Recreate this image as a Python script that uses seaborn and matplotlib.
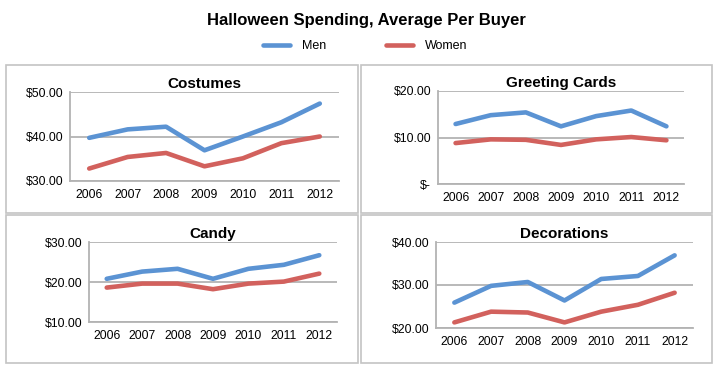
"""Halloween spending per buyer, small multiples by category."""

import matplotlib
matplotlib.use("Agg")
import matplotlib.pyplot as plt
import pandas as pd
import seaborn as sns
from matplotlib.lines import Line2D
from matplotlib.patches import Rectangle
from matplotlib.ticker import FixedLocator

years = ["2006", "2007", "2008", "2009", "2010", "2011", "2012"]

costumes_men = [39.7, 41.6, 42.2, 36.9, 40.0, 43.2, 47.4]
costumes_women = [32.8, 35.4, 36.3, 33.3, 35.1, 38.5, 40.0]

cards_men = [12.9, 14.8, 15.4, 12.4, 14.6, 15.8, 12.4]
cards_women = [8.8, 9.6, 9.5, 8.4, 9.6, 10.1, 9.4]

candy_men = [20.8, 22.6, 23.3, 20.8, 23.3, 24.3, 26.7]
candy_women = [18.6, 19.6, 19.6, 18.2, 19.6, 20.1, 22.1]

decor_men = [25.9, 29.8, 30.7, 26.4, 31.4, 32.1, 36.9]
decor_women = [21.3, 23.8, 23.6, 21.3, 23.8, 25.4, 28.2]

BLUE = "#5B93D3"
RED = "#D2615D"
GRID = "#B3B3B3"
FRAME = "#C4C4C4"

W, H = 720, 373


def px_rect(left, top, right, bottom):
    # pixel box (origin top-left) -> figure fraction [x, y, w, h]
    return [left / W, 1 - bottom / H, (right - left) / W, (bottom - top) / H]


def make_frame(df_men, df_women):
    rows = []
    for y, m, w in zip(years, df_men, df_women):
        rows.append({"year": y, "spend": m, "who": "Men"})
        rows.append({"year": y, "spend": w, "who": "Women"})
    return pd.DataFrame(rows)


def draw_panel(fig, rect, title, men, women, ylim, yticks, ylabels):
    ax = fig.add_axes(px_rect(*rect))
    data = make_frame(men, women)
    sns.lineplot(data=data, x="year", y="spend", hue="who", palette=[BLUE, RED],
                 linewidth=3.3, ax=ax, legend=False, sort=False)
    ax.set_xlim(-0.5, 6.5)
    ax.set_ylim(*ylim)
    ax.set_yticks(yticks)
    ax.set_yticklabels(ylabels)
    ax.set_xticks(range(len(years)))
    ax.set_xticklabels(years)
    ax.xaxis.set_minor_locator(FixedLocator([i - 0.5 for i in range(len(years) + 1)]))
    ax.tick_params(axis="x", which="major", length=0, pad=6, labelsize=8.8)
    ax.tick_params(axis="x", which="minor", length=3, color=GRID, width=1)
    ax.tick_params(axis="y", length=3, color=GRID, width=1, pad=2, labelsize=8.8)
    ax.grid(axis="y", color=GRID, linewidth=1.3)
    ax.grid(axis="x", visible=False)
    ax.set_axisbelow(True)
    for side in ["top", "right"]:
        ax.spines[side].set_visible(False)
    for side in ["left", "bottom"]:
        ax.spines[side].set_color(GRID)
        ax.spines[side].set_linewidth(1.3)
    ax.set_xlabel("")
    ax.set_ylabel("")
    ax.set_facecolor("white")
    ax.set_title(title, fontsize=11, fontweight="bold", pad=3)
    return ax


sns.set_theme(style="white")
plt.rcParams["font.family"] = ["Liberation Sans", "DejaVu Sans"]
plt.rcParams["text.color"] = "black"
plt.rcParams["xtick.labelcolor"] = "black"
plt.rcParams["ytick.labelcolor"] = "black"
plt.rcParams["axes.titlecolor"] = "black"

fig = plt.figure(figsize=(7.2, 3.73), dpi=100)

# panel frames
for l, t, r, b in [(6.5, 65, 357.5, 213.3), (360.7, 65, 712, 213.3),
                   (6.5, 215.3, 357.5, 362.7), (360.7, 215.3, 712, 362.7)]:
    fig.patches.append(Rectangle((l / W, 1 - b / H), (r - l) / W, (b - t) / H,
                                 transform=fig.transFigure, fill=False,
                                 edgecolor=FRAME, linewidth=1.2))

draw_panel(fig, (70, 92, 339, 181), "Costumes", costumes_men, costumes_women,
           (30, 50), [30, 40, 50], ["$30.00", "$40.00", "$50.00"])
draw_panel(fig, (438, 91, 684, 184), "Greeting Cards", cards_men, cards_women,
           (0, 20), [0, 10, 20], ["$-", "$10.00", "$20.00"])
draw_panel(fig, (89, 242, 337, 322), "Candy", candy_men, candy_women,
           (10, 30), [10, 20, 30], ["$10.00", "$20.00", "$30.00"])
draw_panel(fig, (436, 242, 693, 328), "Decorations", decor_men, decor_women,
           (20, 40), [20, 30, 40], ["$20.00", "$30.00", "$40.00"])

fig.text(366 / W, 1 - 21 / H, "Halloween Spending, Average Per Buyer",
         ha="center", va="center", fontsize=12, fontweight="bold")

handles = [Line2D([], [], color=BLUE, linewidth=3.3), Line2D([], [], color=RED, linewidth=3.3)]
fig.legend(handles, ["Men", "Women"], loc="center", bbox_to_anchor=(365 / W, 1 - 46 / H),
           ncol=2, frameon=False, fontsize=9, handlelength=2.2, columnspacing=4.8,
           handletextpad=0.9)

fig.savefig("out.png", dpi=100, facecolor="white")
